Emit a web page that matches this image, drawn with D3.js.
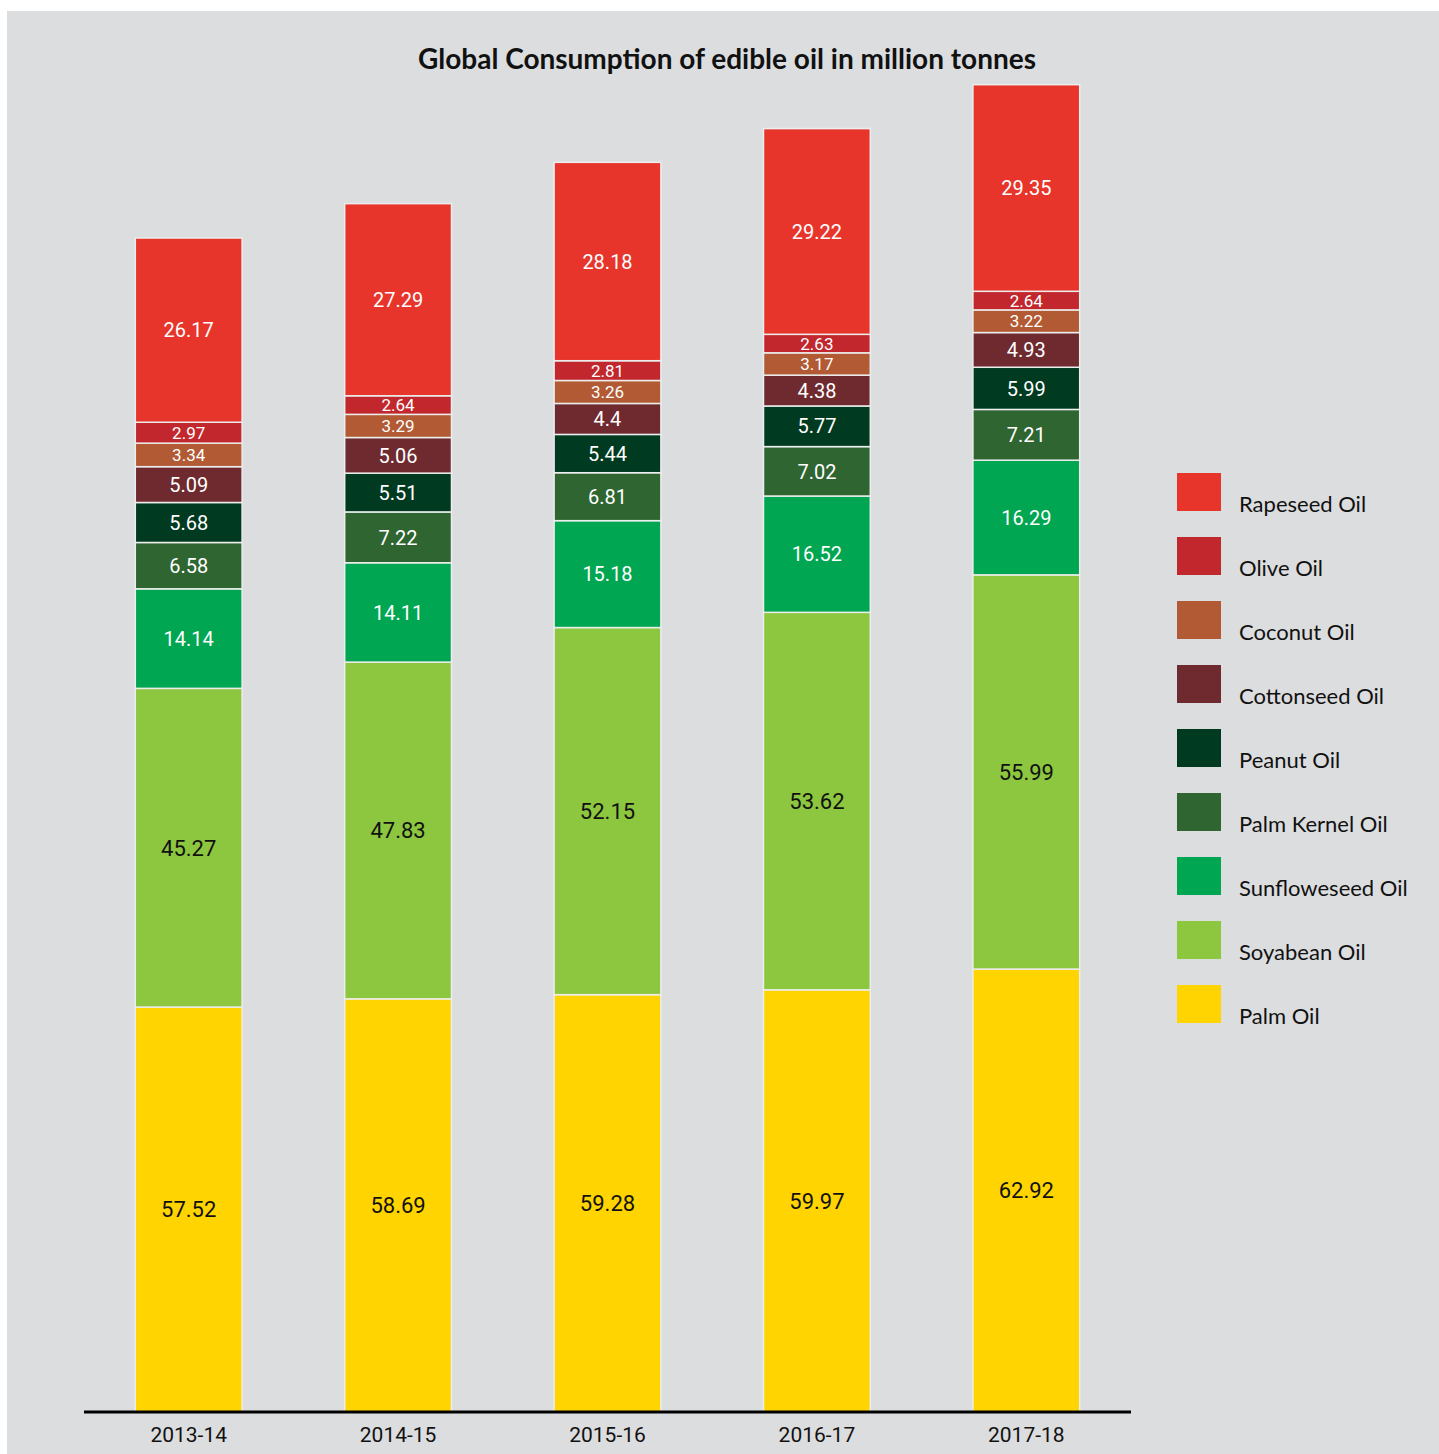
<!DOCTYPE html>
<html>
<head>
<meta charset="utf-8">
<script src="https://cdn.jsdelivr.net/npm/d3@7"></script>
<style>
  html, body { margin: 0; padding: 0; background: #fff; }
  svg { display: block; }
</style>
</head>
<body>
<div id="chart"></div>
<script>
  // Chart data
  var years = ['2013-14', '2014-15', '2015-16', '2016-17', '2017-18'];
  // stacking order, bottom to top
  var oils = ['Palm Oil', 'Soyabean Oil', 'Sunfloweseed Oil', 'Palm Kernel Oil',
              'Peanut Oil', 'Cottonseed Oil', 'Coconut Oil', 'Olive Oil', 'Rapeseed Oil'];
  var palmOil       = [57.52, 58.69, 59.28, 59.97, 62.92];
  var soyabeanOil   = [45.27, 47.83, 52.15, 53.62, 55.99];
  var sunflowerOil  = [14.14, 14.11, 15.18, 16.52, 16.29];
  var palmKernelOil = [6.58, 7.22, 6.81, 7.02, 7.21];
  var peanutOil     = [5.68, 5.51, 5.44, 5.77, 5.99];
  var cottonseedOil = [5.09, 5.06, 4.4, 4.38, 4.93];
  var coconutOil    = [3.34, 3.29, 3.26, 3.17, 3.22];
  var oliveOil      = [2.97, 2.64, 2.81, 2.63, 2.64];
  var rapeseedOil   = [26.17, 27.29, 28.18, 29.22, 29.35];
  var colors = ['#ffd400', '#8dc63f', '#00a651', '#2e6531', '#003a20',
                '#6e2a2f', '#b15a33', '#c1272d', '#e8352c'];

  var series = [palmOil, soyabeanOil, sunflowerOil, palmKernelOil, peanutOil,
                cottonseedOil, coconutOil, oliveOil, rapeseedOil];

  var rows = years.map(function (yr, i) {
    var r = { year: yr };
    oils.forEach(function (o, k) { r[o] = series[k][i]; });
    return r;
  });

  var width = 1439, height = 1454;
  var svg = d3.select('#chart').append('svg')
    .attr('width', width)
    .attr('height', height);

  svg.append('rect')
    .attr('x', 7).attr('y', 11)
    .attr('width', width - 7).attr('height', height - 11)
    .attr('fill', '#dcdddf');

  var x = d3.scaleBand()
    .domain(years)
    .range([84, 1131])
    .paddingInner(0.49)
    .paddingOuter(0.245);

  var y = d3.scaleLinear()
    .domain([0, 190])
    .range([1412, 1412 - 190 * 7.04]);

  var stack = d3.stack().keys(oils)(rows);

  var layers = svg.selectAll('.layer')
    .data(stack)
    .enter().append('g')
    .attr('class', 'layer')
    .attr('fill', function (d, i) { return colors[i]; });

  layers.selectAll('rect')
    .data(function (d) { return d; })
    .enter().append('rect')
    .attr('x', function (d) { return x(d.data.year); })
    .attr('y', function (d) { return y(d[1]); })
    .attr('width', x.bandwidth())
    .attr('height', function (d) { return y(d[0]) - y(d[1]); })
    .attr('stroke', '#eceded')
    .attr('stroke-width', 1.5);

  layers.each(function (layer, i) {
    var dark = i < 2;
    d3.select(this).selectAll('text')
      .data(layer)
      .enter().append('text')
      .attr('x', function (d) { return x(d.data.year) + x.bandwidth() / 2; })
      .attr('y', function (d) { return (y(d[0]) + y(d[1])) / 2; })
      .attr('dy', '0.36em')
      .attr('text-anchor', 'middle')
      .attr('font-family', 'Roboto, sans-serif')
      .attr('font-size', function (d) {
        var h = y(d[0]) - y(d[1]);
        // thin segments get a slightly smaller label
        return dark ? 22 : (h < 25 ? 17 : 20);
      })
      .attr('fill', dark ? '#111' : '#fff')
      .text(function (d) { return d.data[layer.key]; });
  });

  // axis
  var axis = svg.append('g')
    .attr('transform', 'translate(0,1412)')
    .call(d3.axisBottom(x).tickSize(0).tickPadding(15));
  axis.select('.domain')
    .attr('d', 'M84,0H1131')
    .attr('stroke', '#000')
    .attr('stroke-width', 3);
  axis.selectAll('text')
    .attr('font-family', 'Roboto, sans-serif')
    .attr('font-size', 21)
    .attr('fill', '#111');

  // title
  svg.append('text')
    .attr('x', 727).attr('y', 69)
    .attr('text-anchor', 'middle')
    .attr('font-family', 'Lato, sans-serif')
    .attr('font-weight', 'bold')
    .attr('font-size', 28)
    .attr('fill', '#111')
    .text('Global Consumption of edible oil in million tonnes');

  // legend, top to bottom
  var legendKeys = oils.slice().reverse();
  var legend = svg.selectAll('.legend')
    .data(legendKeys)
    .enter().append('g')
    .attr('class', 'legend')
    .attr('transform', function (d, i) { return 'translate(1177,' + (473 + i * 64) + ')'; });

  legend.append('rect')
    .attr('width', 44).attr('height', 38)
    .attr('fill', function (d) { return colors[oils.indexOf(d)]; });

  legend.append('text')
    .attr('x', 62).attr('y', 39)
    .attr('font-family', 'Lato, sans-serif')
    .attr('font-size', 22)
    .attr('fill', '#111')
    .text(function (d) { return d; });
</script>
</body>
</html>
